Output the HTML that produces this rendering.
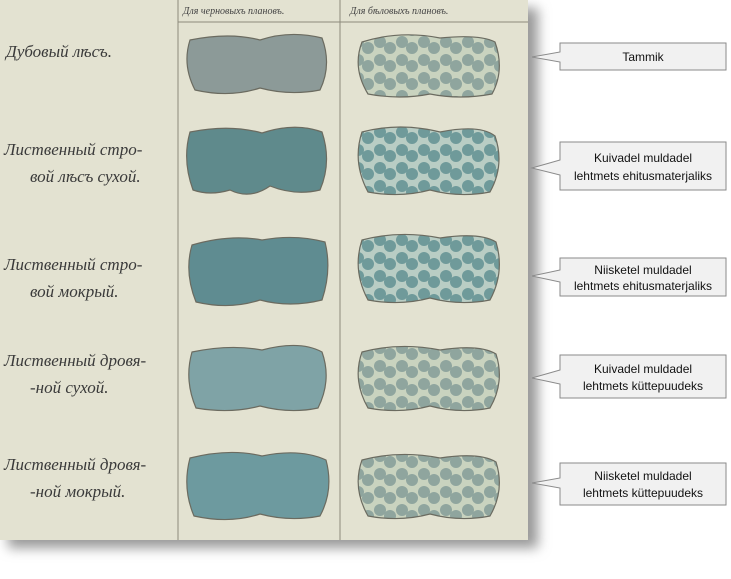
<!DOCTYPE html>
<html><head><meta charset="utf-8"><style>
html,body{margin:0;padding:0;background:#fff;width:731px;height:579px;overflow:hidden}
svg{display:block}
</style></head><body>
<svg width="731" height="579" viewBox="0 0 731 579" xmlns="http://www.w3.org/2000/svg">
<defs>
<filter id="sh" x="-10%" y="-10%" width="120%" height="120%"><feGaussianBlur stdDeviation="6"/></filter>
<filter id="sh2"><feGaussianBlur stdDeviation="1.5"/></filter>
<pattern id="dots" width="22" height="18" patternUnits="userSpaceOnUse">
<rect width="22" height="18" fill="#c9d3bf"/>
<circle cx="6" cy="6" r="6" fill="#8fa59e"/><circle cx="16" cy="12" r="6" fill="#8fa59e"/>
</pattern>
<pattern id="dots2" width="22" height="18" patternUnits="userSpaceOnUse">
<rect width="22" height="18" fill="#b9cdc4"/>
<circle cx="6" cy="6" r="6" fill="#6f9a9a"/><circle cx="16" cy="12" r="6" fill="#6f9a9a"/>
</pattern>
</defs>
<rect x="8" y="8" width="530" height="540" fill="#999" filter="url(#sh)"/>
<rect x="0" y="0" width="528" height="540" fill="#e3e2d1"/>
<line x1="178" y1="0" x2="178" y2="540" stroke="#8c8a7c" stroke-width="1"/>
<line x1="340" y1="0" x2="340" y2="540" stroke="#8c8a7c" stroke-width="1"/>
<line x1="178" y1="22" x2="528" y2="22" stroke="#8c8a7c" stroke-width="1"/>
<g font-family="Liberation Serif, serif" font-style="italic" fill="#444" font-size="10">
<text x="183" y="14">Для черновыхъ плановъ.</text>
<text x="350" y="14">Для бѣловыхъ плановъ.</text>
</g>
<g font-family="Liberation Serif, serif" font-style="italic" fill="#3a3a3a" font-size="17">
<text x="6" y="57">Дубовый лѣсъ.</text>
<text x="4" y="155">Лиственный стро-</text><text x="30" y="182">вой лѣсъ сухой.</text>
<text x="4" y="270">Лиственный стро-</text><text x="30" y="297">вой мокрый.</text>
<text x="4" y="366">Лиственный дровя-</text><text x="30" y="393">-ной сухой.</text>
<text x="4" y="470">Лиственный дровя-</text><text x="30" y="497">-ной мокрый.</text>
</g>
<g stroke="#6b6b60" stroke-width="1.2">
<path d="M190 40 Q230 32 260 40 Q290 30 322 38 Q332 65 320 90 Q290 96 260 88 Q230 98 195 90 Q182 65 190 40Z" fill="#8c9a98"/>
<path d="M190 132 Q230 124 262 133 Q295 122 322 132 Q332 162 320 190 Q295 196 270 186 Q250 200 230 190 Q210 196 193 190 Q182 160 190 132Z" fill="#5f8a8c"/>
<path d="M192 245 Q230 234 262 240 Q295 234 325 242 Q332 270 322 300 Q290 308 260 300 Q230 310 196 302 Q184 272 192 245Z" fill="#5f8c91"/>
<path d="M192 352 Q230 344 262 350 Q300 340 322 352 Q332 380 318 408 Q290 414 260 406 Q230 414 196 408 Q184 380 192 352Z" fill="#7fa3a6"/>
<path d="M190 458 Q230 448 262 456 Q300 448 326 460 Q334 490 320 516 Q290 522 260 514 Q230 524 194 516 Q182 488 190 458Z" fill="#6d9a9f"/>
<path d="M362 42 Q400 30 440 38 Q480 34 495 42 Q505 70 492 94 Q460 100 430 94 Q400 100 368 94 Q352 68 362 42Z" fill="url(#dots)"/>
<path d="M362 132 Q400 122 440 132 Q480 124 495 136 Q505 165 490 192 Q460 198 430 190 Q400 198 368 192 Q352 162 362 132Z" fill="url(#dots2)"/>
<path d="M362 240 Q400 230 440 238 Q480 232 496 242 Q505 272 490 300 Q460 306 430 298 Q400 306 368 300 Q352 270 362 240Z" fill="url(#dots2)"/>
<path d="M362 352 Q400 342 440 350 Q480 344 496 354 Q505 382 490 408 Q460 414 430 406 Q400 414 368 408 Q352 380 362 352Z" fill="url(#dots)"/>
<path d="M362 460 Q400 450 440 458 Q480 452 496 462 Q505 490 490 516 Q460 522 430 514 Q400 522 368 516 Q352 488 362 460Z" fill="url(#dots)"/>
</g>
<g font-family="Liberation Sans, sans-serif" font-size="12" fill="#111" text-anchor="middle">
<g><path d="M560 43 H726 V70 H560 V62 L532 57 L560 52Z" fill="#f1f1f1" stroke="#8a8a8a"/><text x="643" y="61">Tammik</text></g>
<g><path d="M560 142 H726 V190 H560 V175 L532 168 L560 160Z" fill="#f1f1f1" stroke="#8a8a8a"/><text x="643" y="162">Kuivadel muldadel</text><text x="643" y="180">lehtmets ehitusmaterjaliks</text></g>
<g><path d="M560 258 H726 V296 H560 V282 L532 276 L560 270Z" fill="#f1f1f1" stroke="#8a8a8a"/><text x="643" y="274">Niisketel muldadel</text><text x="643" y="290">lehtmets ehitusmaterjaliks</text></g>
<g><path d="M560 355 H726 V398 H560 V384 L532 378 L560 370Z" fill="#f1f1f1" stroke="#8a8a8a"/><text x="643" y="373">Kuivadel muldadel</text><text x="643" y="390">lehtmets küttepuudeks</text></g>
<g><path d="M560 463 H726 V505 H560 V488 L532 483 L560 478Z" fill="#f1f1f1" stroke="#8a8a8a"/><text x="643" y="480">Niisketel muldadel</text><text x="643" y="497">lehtmets küttepuudeks</text></g>
</g>
</svg>
</body></html>
